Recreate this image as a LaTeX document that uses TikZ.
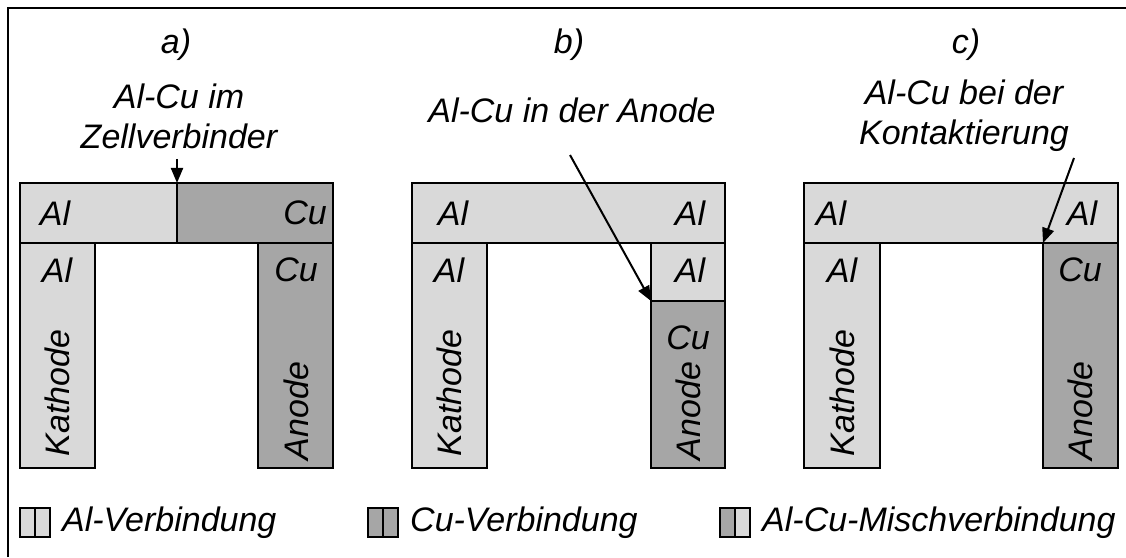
\documentclass[tikz,border=0pt]{standalone}
\usepackage{fontspec}
\setmainfont{Liberation Sans}
\usetikzlibrary{arrows.meta,calc}
\definecolor{alc}{HTML}{D9D9D9}
\definecolor{cuc}{HTML}{A6A6A6}
\tikzset{
  part/.style={draw=black,line width=2pt},
  al/.style={part,fill=alc},
  cu/.style={part,fill=cuc},
  leg/.style={line width=2.6pt},
  lbl/.style={font=\fontsize{34}{40}\selectfont\itshape,inner sep=0pt},
  pointer/.style={line width=2pt,-{Triangle[length=15pt,width=12pt]}},
}
\begin{document}
\begin{tikzpicture}[x=1pt,y=1pt]
\useasboundingbox (0,0) rectangle (1126,557);
\draw[line width=2.5pt] (8,0) -- (8,549) -- (1126,549);
% panel a
\draw[al] (20,374) rectangle (177,314);
\draw[cu] (177,374) rectangle (333,314);
\draw[al] (20,314) rectangle (95,89);
\draw[cu] (258,314) rectangle (333,89);
\coordinate (atgt) at (177,374);
\coordinate (asrc) at (177,398);
\node[lbl] (alab) at (176,512) {a)};
\node[lbl,align=center] (atext) at (179,441) {Al-Cu im\\Zellverbinder};
\node[lbl] at (55,344) {Al};
\node[lbl] at (305,344) {Cu};
\node[lbl] at (57,287) {Al};
\node[lbl] at (296,287) {Cu};
\node[lbl,rotate=90] at (57,164) {Kathode};
\node[lbl,rotate=90] at (296,146) {Anode};
\draw[pointer] (asrc) -- (atgt);
% panel b
\draw[al] (412,374) rectangle (725,314);
\draw[al] (412,314) rectangle (487,89);
\draw[al] (651,314) rectangle (725,256);
\draw[cu] (651,256) rectangle (725,89);
\coordinate (btgt) at (651,256);
\coordinate (bsrc) at (570,402);
\node[lbl] (blab) at (569,512) {b)};
\node[lbl] (btext) at (572,447) {Al-Cu in der Anode};
\node[lbl] at (453,344) {Al};
\node[lbl] at (690,344) {Al};
\node[lbl] at (449,287) {Al};
\node[lbl] at (690,287) {Al};
\node[lbl] at (688,219) {Cu};
\node[lbl,rotate=90] at (449,164) {Kathode};
\node[lbl,rotate=90] at (688,146) {Anode};
\draw[pointer] (bsrc) -- (btgt);
% panel c
\draw[al] (804,374) rectangle (1118,314);
\draw[al] (804,314) rectangle (880,89);
\draw[cu] (1043,314) rectangle (1118,89);
\coordinate (ctgt) at (1043,314);
\coordinate (csrc) at (1074,399);
\node[lbl] (clab) at (966,512) {c)};
\node[lbl,align=center] (ctext) at (964,441) {Al-Cu bei der\\Kontaktierung};
\node[lbl] at (831,344) {Al};
\node[lbl] at (1082,344) {Al};
\node[lbl] at (842,287) {Al};
\node[lbl] at (1080,287) {Cu};
\node[lbl,rotate=90] at (842,164) {Kathode};
\node[lbl,rotate=90] at (1080,146) {Anode};
\draw[pointer] (csrc) -- (ctgt);
% legend
\draw[al,leg] (20,49) rectangle (35,20);
\draw[al,leg] (35,49) rectangle (50,20);
\node[lbl,anchor=west] (lal) at (62,34) {Al-Verbindung};
\draw[cu,leg] (368,49) rectangle (383,20);
\draw[cu,leg] (383,49) rectangle (398,20);
\node[lbl,anchor=west] (lcu) at (410,34) {Cu-Verbindung};
\draw[cu,leg] (720,49) rectangle (735,20);
\draw[al,leg] (735,49) rectangle (750,20);
\node[lbl,anchor=west] (lmix) at (762,34) {Al-Cu-Mischverbindung};
\end{tikzpicture}
\end{document}
